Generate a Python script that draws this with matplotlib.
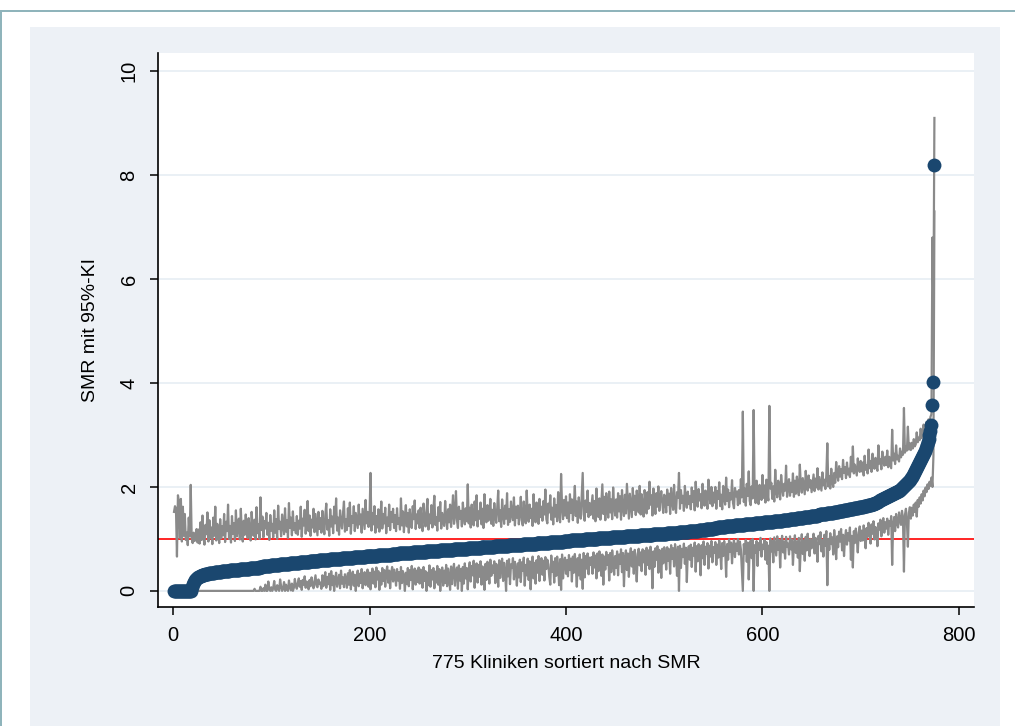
import numpy as np
import matplotlib
matplotlib.use("Agg")
import matplotlib.pyplot as plt
from matplotlib.patches import Rectangle

plt.rcParams['font.family'] = ['Liberation Sans', 'DejaVu Sans']

# sorted SMR per clinic, as (level, number of clinics at that level)
smr_level = [
    0.00, 0.08, 0.14, 0.18, 0.21, 0.23, 0.25, 0.26, 0.27, 0.28, 0.29,
    0.30, 0.31, 0.32, 0.33, 0.34, 0.35, 0.36, 0.37, 0.38, 0.39,
    0.40, 0.41, 0.42, 0.43, 0.44, 0.45, 0.46, 0.47, 0.48, 0.49,
    0.50, 0.51, 0.52, 0.53, 0.54, 0.55, 0.56, 0.57, 0.58, 0.59,
    0.60, 0.61, 0.62, 0.63, 0.64, 0.65, 0.66, 0.67,
    0.68, 0.69, 0.70, 0.71, 0.72, 0.73, 0.74,
    0.75, 0.76, 0.77, 0.78, 0.79, 0.80, 0.81,
    0.82, 0.83, 0.84, 0.85, 0.86, 0.87, 0.88,
    0.89, 0.90, 0.91, 0.92, 0.93, 0.94, 0.95,
    0.96, 0.97, 0.98, 0.99, 1.00, 1.01, 1.02, 1.03, 1.04,
    1.05, 1.06, 1.07, 1.08, 1.09, 1.10, 1.11,
    1.12, 1.13, 1.14, 1.15, 1.16, 1.17, 1.18, 1.19, 1.20, 1.21, 1.22, 1.23, 1.24,
    1.25, 1.26, 1.27, 1.28, 1.29, 1.30, 1.31, 1.32, 1.33, 1.34,
    1.35, 1.36, 1.37, 1.38, 1.39, 1.40, 1.41, 1.42, 1.43, 1.44, 1.45, 1.46, 1.47, 1.48, 1.49,
    1.50, 1.51, 1.52, 1.53, 1.54, 1.55, 1.56, 1.57, 1.58, 1.59, 1.60, 1.61,
    1.62, 1.63, 1.64, 1.65, 1.66, 1.67, 1.68, 1.69, 1.70, 1.71, 1.72, 1.73, 1.74,
    1.75, 1.76, 1.77, 1.78, 1.79, 1.80, 1.81, 1.82, 1.83, 1.84, 1.85, 1.86, 1.87, 1.88, 1.89, 1.90, 1.91,
    1.92, 1.93, 1.94, 1.96, 1.98, 2.00, 2.02, 2.04,
    2.06, 2.08, 2.10, 2.12, 2.14, 2.17, 2.20, 2.23,
    2.26, 2.30, 2.34, 2.38, 2.42, 2.46, 2.50,
    2.54, 2.58, 2.62, 2.66, 2.70, 2.75, 2.80, 2.86, 2.93, 3.00, 3.08, 3.20,
    3.58, 4.02, 8.19,
]
smr_count = [
    18, 1, 1, 1, 1, 1, 1, 1, 1, 1, 1,
    2, 2, 2, 2, 3, 3, 3, 4, 4, 4,
    5, 5, 5, 5, 5, 5, 4, 4, 4, 4,
    5, 5, 5, 5, 5, 5, 5, 5, 5, 5,
    6, 6, 6, 6, 6, 6, 6, 6,
    7, 7, 7, 7, 7, 7, 7,
    7, 7, 7, 7, 7, 7, 7,
    7, 7, 7, 7, 7, 7, 7,
    7, 7, 7, 7, 7, 7, 7,
    7, 7, 7, 7, 7, 7, 7, 7, 7,
    7, 7, 7, 7, 7, 7, 7,
    5, 5, 5, 5, 5, 4, 4, 4, 4, 4, 4, 4, 4,
    5, 5, 5, 5, 5, 5, 5, 5, 5, 5,
    4, 3, 4, 3, 4, 3, 4, 3, 4, 3, 4, 3, 4, 3, 4,
    3, 2, 3, 2, 3, 2, 3, 2, 3, 2, 3, 3,
    2, 2, 2, 2, 2, 2, 2, 1, 1, 1, 1, 1, 1,
    1, 1, 1, 1, 1, 1, 1, 1, 1, 1, 1, 1, 1, 1, 1, 1, 1,
    1, 1, 1, 1, 1, 1, 1, 1,
    1, 1, 1, 1, 1, 1, 1, 1,
    1, 1, 1, 1, 1, 1, 1,
    1, 1, 1, 1, 1, 1, 1, 1, 1, 1, 1, 1,
    1, 1, 1,
]

# upper 95% limit, same clinic order (25 per row)
upper_ci = [
    1.52, 1.63, 1.58, 0.66, 1.84, 1.71, 1.02, 1.77, 0.95, 1.62, 1.06, 1.48, 0.98, 1.12, 0.88, 1.41, 1.05, 2.04, 1.01, 0.92, 1.12, 0.96, 1.04, 1.19, 0.93,
    1.18, 0.91, 1.32, 0.98, 1.45, 1.04, 0.89, 1.27, 1.09, 1.51, 0.95, 1.36, 1.02, 1.22, 0.90, 1.41, 1.06, 1.62, 0.97, 1.29, 1.12, 0.92, 1.38, 1.01, 1.24,
    1.07, 1.48, 0.94, 1.33, 1.15, 1.66, 1.00, 1.25, 0.93, 1.44, 1.10, 1.30, 0.96, 1.55, 1.05, 1.21, 1.39, 0.99, 1.58, 1.13, 0.95, 1.35, 1.08, 1.47, 1.18,
    1.02, 1.40, 1.14, 0.97, 1.52, 1.23, 1.06, 1.37, 0.99, 1.61, 1.11, 1.28, 1.00, 1.80, 1.17, 1.43, 1.03, 1.34, 1.20, 1.50, 1.08, 1.31, 0.98, 1.46, 1.16,
    1.29, 1.03, 1.55, 1.12, 1.38, 1.00, 1.64, 1.19, 1.33, 1.05, 1.47, 1.25, 1.09, 1.59, 1.14, 1.36, 1.02, 1.69, 1.21, 1.41, 1.07, 1.53, 1.17, 1.30, 1.11,
    1.44, 1.08, 1.35, 1.20, 1.62, 1.04, 1.39, 1.26, 1.56, 1.10, 1.32, 1.73, 1.15, 1.45, 1.06, 1.37, 1.22, 1.58, 1.13, 1.48, 1.28, 1.07, 1.52, 1.19, 1.40,
    1.12, 1.54, 1.27, 1.09, 1.46, 1.68, 1.18, 1.36, 1.06, 1.57, 1.24, 1.43, 1.11, 1.62, 1.30, 1.78, 1.16, 1.41, 1.08, 1.55, 1.33, 1.20, 1.49, 1.72, 1.14,
    1.38, 1.17, 1.59, 1.25, 1.70, 1.10, 1.44, 1.31, 1.63, 1.15, 1.50, 1.36, 1.21, 1.66, 1.28, 1.47, 1.12, 1.58, 1.39, 1.19, 1.75, 1.30, 1.52, 1.23, 1.42,
    2.27, 1.16, 1.50, 1.28, 1.63, 1.12, 1.44, 1.22, 1.57, 1.14, 1.36, 1.72, 1.20, 1.48, 1.30, 1.60, 1.11, 1.41, 1.25, 1.66, 1.17, 1.52, 1.33, 1.58, 1.21,
    1.46, 1.15, 1.59, 1.29, 1.40, 1.18, 1.78, 1.26, 1.53, 1.13, 1.44, 1.65, 1.24, 1.50, 1.12, 1.57, 1.32, 1.21, 1.63, 1.38, 1.74, 1.19, 1.47, 1.30, 1.55,
    1.21, 1.60, 1.33, 1.15, 1.68, 1.40, 1.24, 1.53, 1.77, 1.18, 1.47, 1.30, 1.65, 1.22, 1.56, 1.83, 1.27, 1.42, 1.16, 1.61, 1.35, 1.71, 1.20, 1.50, 1.38,
    1.25, 1.73, 1.41, 1.19, 1.57, 1.32, 1.66, 1.23, 1.51, 1.84, 1.29, 1.46, 1.92, 1.36, 1.21, 1.62, 1.39, 1.54, 1.24, 1.70, 1.44, 1.28, 1.59, 1.34, 2.05,
    1.30, 1.60, 1.22, 1.66, 1.41, 1.26, 1.72, 1.36, 1.84, 1.24, 1.53, 1.39, 1.70, 1.28, 1.58, 1.21, 1.86, 1.45, 1.32, 1.65, 1.35, 1.50, 1.77, 1.29, 1.56,
    1.25, 1.69, 1.43, 1.31, 1.60, 1.93, 1.34, 1.55, 1.23, 1.76, 1.47, 1.29, 1.64, 1.39, 1.88, 1.27, 1.57, 1.33, 1.72, 1.48, 1.36, 1.80, 1.26, 1.62, 1.41,
    1.64, 1.28, 1.50, 1.81, 1.36, 1.26, 1.72, 1.44, 1.30, 1.93, 1.48, 1.33, 1.66, 1.40, 1.58, 1.25, 1.86, 1.46, 1.32, 1.70, 1.53, 1.29, 1.77, 1.42, 1.62,
    1.35, 1.73, 1.47, 1.95, 1.38, 1.30, 1.68, 1.51, 1.84, 1.37, 1.60, 1.28, 1.78, 1.43, 1.65, 1.34, 1.90, 1.49, 1.32, 2.25, 1.63, 1.38, 1.75, 1.45, 1.82,
    1.40, 1.70, 1.33, 1.86, 1.50, 1.76, 1.36, 1.64, 2.02, 1.44, 1.72, 1.31, 1.80, 1.55, 1.39, 1.85, 2.27, 1.47, 1.35, 1.74, 1.52, 1.93, 1.42, 1.69, 1.46,
    1.66, 1.84, 1.39, 1.73, 1.34, 1.97, 1.56, 1.42, 1.78, 1.37, 1.70, 2.05, 1.48, 1.81, 1.36, 1.88, 1.60, 1.41, 1.91, 1.51, 1.76, 1.38, 1.99, 1.63, 1.45,
    1.76, 1.41, 1.88, 1.53, 1.82, 1.37, 1.94, 1.60, 1.44, 1.85, 1.49, 2.06, 1.72, 1.39, 1.87, 1.65, 1.42, 1.98, 1.56, 1.83, 1.46, 1.93, 1.68, 1.51, 2.02,
    1.47, 1.86, 1.63, 1.43, 1.94, 1.74, 1.49, 1.90, 1.58, 2.10, 1.66, 1.84, 1.45, 1.97, 1.71, 1.48, 1.88, 1.62, 2.01, 1.54, 1.79, 1.92, 1.69, 1.50, 1.85,
    1.74, 1.51, 1.95, 1.66, 1.87, 1.48, 1.98, 1.72, 1.56, 2.04, 1.63, 1.50, 1.90, 1.79, 2.27, 1.58, 1.94, 1.69, 1.83, 1.54, 2.02, 1.76, 1.60, 1.91, 1.67,
    1.82, 1.57, 1.99, 1.71, 1.92, 1.55, 2.10, 1.78, 1.62, 1.96, 1.74, 1.86, 1.59, 2.06, 1.81, 1.64, 1.93, 1.77, 1.58, 2.14, 1.85, 1.68, 2.00, 1.63, 1.89,
    1.70, 2.00, 1.58, 1.92, 1.77, 2.09, 1.63, 1.85, 1.57, 2.02, 1.80, 1.66, 2.18, 1.73, 1.95, 1.61, 1.88, 1.76, 2.13, 1.69, 1.59, 1.98, 1.82, 1.91, 1.65,
    1.94, 1.68, 2.15, 1.80, 3.45, 1.71, 1.97, 1.64, 2.06, 1.83, 2.30, 1.73, 1.65, 2.01, 1.78, 3.48, 1.89, 1.69, 2.12, 1.84, 1.67, 2.04, 1.92, 1.75, 2.23,
    1.79, 2.03, 1.70, 2.14, 1.86, 1.74, 3.56, 1.97, 2.08, 1.77, 2.01, 1.72, 2.33, 1.91, 1.80, 2.12, 1.95, 1.76, 2.23, 2.00, 1.83, 2.06, 1.93, 2.41, 1.81,
    2.00, 2.15, 1.83, 2.08, 1.90, 2.26, 1.81, 2.12, 1.87, 2.20, 1.96, 1.84, 2.43, 2.05, 1.89, 2.17, 2.02, 1.86, 2.31, 2.07, 1.93, 2.22, 1.99, 2.13, 1.90,
    2.08, 2.24, 1.92, 2.16, 1.99, 2.36, 1.95, 2.19, 2.06, 1.93, 2.28, 2.03, 2.14, 1.96, 2.23, 2.84, 2.01, 2.21, 1.97, 2.35, 2.11, 2.00, 2.27, 2.08, 2.48,
    2.25, 2.12, 2.40, 2.20, 2.34, 2.15, 2.52, 2.27, 2.38, 2.17, 2.47, 2.24, 2.35, 2.19, 2.58, 2.30, 2.78, 2.26, 2.43, 2.33, 2.22, 2.55, 2.37, 2.29, 2.50,
    2.30, 2.47, 2.22, 2.60, 2.33, 2.42, 2.26, 2.72, 2.36, 2.50, 2.29, 2.64, 2.44, 2.35, 2.56, 2.40, 2.31, 2.80, 2.45, 2.53, 2.34, 2.68, 2.48, 2.41, 2.58,
    2.42, 2.70, 2.38, 2.58, 2.47, 2.36, 3.10, 2.51, 2.64, 2.44, 2.80, 2.53, 2.60, 2.49, 2.74, 2.57, 2.68, 2.62, 3.52, 2.66, 2.78, 2.70, 3.16, 2.72, 2.84,
    2.71, 2.85, 2.74, 2.92, 2.78, 2.82, 3.05, 2.86, 2.95, 2.90, 3.12, 2.94, 3.00, 3.20, 3.04, 3.10, 3.25, 3.15, 3.30, 3.22, 3.35, 3.40, 6.80, 5.40, 9.10,
]

# lower 95% limit
lower_ci = [
    0, 0, 0, 0, 0, 0, 0, 0, 0, 0, 0, 0, 0, 0, 0, 0, 0, 0, 0, 0, 0, 0, 0, 0, 0,
    0, 0, 0, 0, 0, 0, 0, 0, 0, 0, 0, 0, 0, 0, 0, 0, 0, 0, 0, 0, 0, 0, 0, 0, 0,
    0, 0, 0, 0, 0, 0, 0, 0, 0, 0, 0, 0, 0, 0, 0, 0, 0, 0, 0, 0, 0, 0, 0, 0, 0,
    0, 0, 0, 0, 0, 0, 0, 0.04, 0, 0, 0, 0, 0, 0.08, 0, 0, 0.05, 0, 0.12, 0, 0, 0.18, 0.03, 0, 0.07,
    0, 0.06, 0.19, 0.02, 0, 0.11, 0.04, 0, 0.22, 0.09, 0, 0.05, 0.17, 0, 0.12, 0.03, 0, 0.20, 0.08, 0.01, 0.14, 0, 0.06, 0.23, 0.10,
    0.04, 0.15, 0.24, 0.08, 0.19, 0.02, 0.21, 0.12, 0.28, 0.06, 0.18, 0.11, 0.03, 0.21, 0.09, 0.26, 0.14, 0.05, 0.17, 0.30, 0.10, 0.07, 0.22, 0.13, 0.16,
    0.04, 0.30, 0.09, 0.24, 0.36, 0.06, 0.27, 0.13, 0.33, 0.02, 0.38, 0.11, 0.29, 0.00, 0.22, 0.35, 0.08, 0.19, 0.31, 0.05, 0.39, 0.14, 0.26, 0.07, 0.32,
    0.25, 0.06, 0.34, 0.12, 0.40, 0.03, 0.29, 0.37, 0.10, 0.31, 0.00, 0.27, 0.39, 0.09, 0.33, 0.15, 0.42, 0.05, 0.24, 0.36, 0.11, 0.30, 0.41, 0.08, 0.35,
    0.03, 0.32, 0.43, 0.14, 0.37, 0.07, 0.45, 0.22, 0.38, 0.02, 0.34, 0.12, 0.44, 0.19, 0.40, 0.08, 0.36, 0.47, 0.16, 0.39, 0.05, 0.33, 0.46, 0.18, 0.41,
    0.30, 0.10, 0.42, 0.20, 0.36, 0.04, 0.46, 0.15, 0.38, 0.26, 0.00, 0.35, 0.13, 0.44, 0.09, 0.40, 0.21, 0.48, 0.03, 0.33, 0.43, 0.12, 0.39, 0.17, 0.45,
    0.14, 0.41, 0.25, 0.06, 0.46, 0.19, 0.38, 0.00, 0.35, 0.11, 0.49, 0.08, 0.40, 0.22, 0.44, 0.05, 0.37, 0.16, 0.48, 0.12, 0.42, 0.00, 0.31, 0.45, 0.10,
    0.39, 0.15, 0.50, 0.09, 0.43, 0.27, 0.02, 0.47, 0.13, 0.40, 0.52, 0.10, 0.36, 0.45, 0.04, 0.49, 0.20, 0.42, 0.00, 0.46, 0.14, 0.53, 0.24, 0.44, 0.03,
    0.40, 0.55, 0.18, 0.48, 0.30, 0.58, 0.06, 0.44, 0.53, 0.16, 0.50, 0.27, 0.57, 0.12, 0.47, 0.34, 0.02, 0.52, 0.21, 0.56, 0.38, 0.14, 0.60, 0.29, 0.49,
    0.35, 0.57, 0.15, 0.52, 0.42, 0.08, 0.59, 0.25, 0.50, 0.62, 0.19, 0.54, 0.37, 0.00, 0.58, 0.28, 0.61, 0.13, 0.51, 0.44, 0.63, 0.22, 0.56, 0.40, 0.10,
    0.53, 0.26, 0.60, 0.17, 0.55, 0.39, 0.64, 0.10, 0.50, 0.30, 0.62, 0.21, 0.57, 0.03, 0.46, 0.66, 0.24, 0.54, 0.14, 0.59, 0.35, 0.67, 0.19, 0.52, 0.63,
    0.31, 0.58, 0.20, 0.65, 0.42, 0.60, 0.51, 0.27, 0.12, 0.68, 0.37, 0.56, 0.16, 0.63, 0.29, 0.66, 0.45, 0.11, 0.61, 0.02, 0.70, 0.24, 0.57, 0.64, 0.33,
    0.59, 0.28, 0.69, 0.40, 0.62, 0.18, 0.66, 0.35, 0.71, 0.47, 0.08, 0.63, 0.30, 0.70, 0.22, 0.60, 0.04, 0.73, 0.26, 0.67, 0.43, 0.72, 0.32, 0.64, 0.50,
    0.65, 0.33, 0.74, 0.45, 0.68, 0.24, 0.72, 0.38, 0.76, 0.55, 0.29, 0.70, 0.12, 0.66, 0.41, 0.75, 0.50, 0.69, 0.20, 0.73, 0.36, 0.78, 0.58, 0.31, 0.67,
    0.44, 0.76, 0.30, 0.70, 0.52, 0.80, 0.36, 0.73, 0.09, 0.63, 0.78, 0.40, 0.72, 0.27, 0.68, 0.82, 0.47, 0.75, 0.33, 0.79, 0.57, 0.18, 0.71, 0.81, 0.49,
    0.74, 0.38, 0.80, 0.55, 0.77, 0.31, 0.83, 0.50, 0.78, 0.42, 0.85, 0.66, 0.05, 0.76, 0.46, 0.82, 0.60, 0.86, 0.35, 0.79, 0.69, 0.25, 0.81, 0.53, 0.84,
    0.70, 0.41, 0.84, 0.58, 0.80, 0.33, 0.88, 0.62, 0.82, 0.47, 0.90, 0.72, 0.29, 0.85, 0.00, 0.87, 0.44, 0.81, 0.65, 0.91, 0.52, 0.83, 0.17, 0.76, 0.86,
    0.60, 0.89, 0.46, 0.83, 0.68, 0.93, 0.37, 0.86, 0.57, 0.90, 0.74, 0.30, 0.88, 0.63, 0.95, 0.50, 0.85, 0.71, 0.92, 0.43, 0.87, 0.66, 0.96, 0.55, 0.84,
    0.73, 0.94, 0.50, 0.89, 0.64, 0.97, 0.78, 0.42, 0.92, 0.67, 0.96, 0.81, 0.27, 0.90, 0.60, 0.99, 0.75, 0.93, 0.53, 0.86, 0.98, 0.65, 0.91, 0.77, 1.00,
    0.70, 0.95, 0.80, 0.38, 0.00, 0.90, 0.72, 0.98, 0.56, 0.93, 0.22, 0.84, 0.97, 0.63, 1.00, 0.00, 0.88, 0.74, 0.96, 0.48, 0.92, 0.79, 1.02, 0.66, 0.89,
    0.81, 0.99, 0.60, 0.94, 0.52, 0.87, 0.00, 1.01, 0.76, 0.96, 0.55, 1.03, 0.86, 0.68, 1.05, 0.79, 0.98, 0.45, 0.92, 1.06, 0.74, 0.95, 0.62, 1.04, 0.85,
    0.91, 0.70, 1.05, 0.80, 0.99, 0.50, 0.88, 1.07, 0.73, 0.95, 0.64, 1.02, 0.38, 0.84, 1.09, 0.71, 0.97, 0.58, 1.04, 0.78, 1.10, 0.87, 0.67, 1.00, 0.82,
    0.93, 1.10, 0.72, 1.02, 0.85, 0.56, 1.06, 0.90, 1.13, 0.76, 0.98, 0.66, 1.08, 0.87, 1.15, 0.11, 1.00, 0.79, 1.11, 0.90, 1.03, 0.70, 1.17, 0.94, 0.61,
    1.05, 0.84, 1.14, 0.95, 1.19, 0.78, 1.08, 0.67, 1.02, 1.17, 0.89, 1.11, 0.97, 1.22, 0.60, 1.06, 0.45, 1.15, 0.92, 1.20, 1.01, 0.74, 1.12, 1.24, 0.96,
    1.16, 0.97, 1.26, 1.08, 0.82, 1.21, 1.04, 1.31, 1.13, 0.91, 1.28, 1.10, 1.34, 0.99, 1.23, 1.15, 0.86, 1.30, 1.18, 1.37, 1.05, 1.25, 1.40, 1.12, 1.32,
    1.20, 1.39, 1.08, 1.34, 1.25, 1.44, 0.50, 1.29, 1.42, 1.15, 1.48, 1.32, 1.22, 1.51, 1.36, 1.27, 1.54, 1.40, 0.37, 1.46, 1.58, 1.33, 0.85, 1.50, 1.61,
    1.39, 1.60, 1.45, 1.66, 1.52, 1.70, 1.43, 1.75, 1.62, 1.80, 1.68, 1.86, 1.74, 1.93, 1.82, 1.99, 1.90, 2.05, 1.96, 2.10, 2.02, 2.18, 2.00, 2.60, 7.30,
]

x_ticks = [0, 200, 400, 600, 800]
y_ticks = [0, 2, 4, 6, 8, 10]
x_title = '775 Kliniken sortiert nach SMR'
y_title = 'SMR mit 95%-KI'

smr = np.repeat(smr_level, smr_count)
rank = np.arange(1, len(smr) + 1)
print(len(smr), len(upper_ci), len(lower_ci))

navy = '#1a476f'
grey = '#8a8a8a'

fig = plt.figure(figsize=(10.15, 7.26), dpi=100, facecolor='white')

# page frame: light panel + teal border lines
fig.add_artist(Rectangle((30 / 1015, 0), 970 / 1015, 699 / 726, transform=fig.transFigure,
                         facecolor='#edf1f6', edgecolor='none', zorder=-10))
fig.add_artist(Rectangle((0, 1 - 12 / 726), 1, 2 / 726, transform=fig.transFigure,
                         facecolor='#8fb4bb', edgecolor='none', zorder=-9))
fig.add_artist(Rectangle((0, 0), 2 / 1015, 1 - 10 / 726, transform=fig.transFigure,
                         facecolor='#8fb4bb', edgecolor='none', zorder=-9))

ax = fig.add_axes([158 / 1015, 1 - 607 / 726, 816 / 1015, 554 / 726])
ax.set_facecolor('white')

ax.axhline(1, color='#ff0000', lw=1.2, zorder=1)
ax.plot(rank, upper_ci, color=grey, lw=1.6, zorder=2)
ax.plot(rank, lower_ci, color=grey, lw=1.6, zorder=2)
ax.plot(rank, smr, 'o', ms=10, color=navy, mew=0, zorder=3)

ax.set_xlim(-15.3, 815.3)
ax.set_ylim(-0.31, 10.35)
ax.set_xticks(x_ticks)
ax.set_yticks(y_ticks)
ax.set_yticklabels([str(v) for v in y_ticks], rotation=90, va='center')

ax.yaxis.grid(True, color='#e6edf3', lw=1.2, zorder=0)
ax.set_axisbelow(True)
for side in ['top', 'right']:
    ax.spines[side].set_visible(False)
for side in ['left', 'bottom']:
    ax.spines[side].set_linewidth(1.2)
    ax.spines[side].set_color('black')

ax.tick_params(direction='out', length=6, width=1.1, pad=8, labelsize=14.5, colors='black')
ax.set_xlabel(x_title, fontsize=14, labelpad=7)
ax.set_ylabel(y_title, fontsize=14, labelpad=15)

fig.savefig('out.png', dpi=100)
